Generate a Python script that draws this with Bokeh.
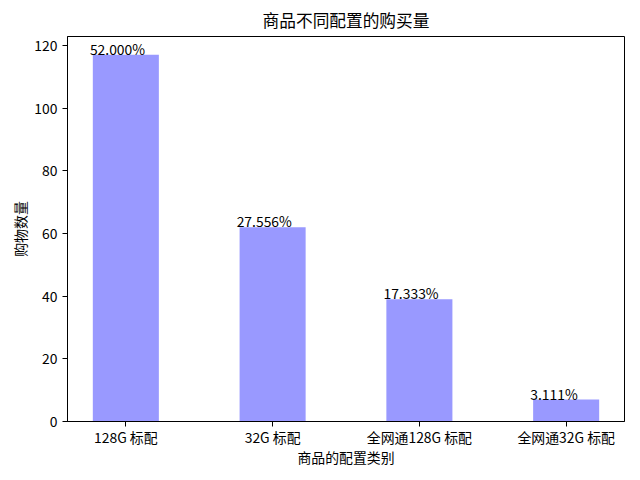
from bokeh.plotting import figure
from bokeh.models import Range1d, FixedTicker, ColumnDataSource
from bokeh.core.properties import value
from bokeh.embed import file_html
from bokeh.resources import INLINE

categories = ["128G 标配", "32G 标配", "全网通128G 标配", "全网通32G 标配"]
counts = [117, 62, 39, 7]
y_ticks = [0, 20, 40, 60, 80, 100, 120]

total = sum(counts)
positions = list(range(len(categories)))
labels = [f"{c / total * 100:.3f}%" for c in counts]

FONT = "Noto Sans CJK SC"
BAR_W = 0.45

source = ColumnDataSource(dict(
    x=positions,
    top=counts,
    lx=[x - 0.245 for x in positions],
    label=labels,
))

p = figure(
    width=640, height=480,
    x_range=Range1d(-0.3975, 3.3975),
    y_range=Range1d(0, 122.85),
    output_backend="svg", toolbar_location=None,
    min_border_left=67, min_border_right=16,
    min_border_top=35, min_border_bottom=59,
    background_fill_color="white", border_fill_color="white",
)

p.vbar(x="x", top="top", width=BAR_W, bottom=0, source=source,
       fill_color="#9999ff", line_color=None)

p.text(x="lx", y="top", text="label", source=source,
       text_font=value(FONT), text_font_size="13.9px",
       text_align="left", text_baseline="alphabetic", text_color="black",
       y_offset=-6)

p.title.text = "商品不同配置的购买量"
p.title.align = "center"
p.title.text_font = FONT
p.title.text_font_size = "16.7px"
p.title.text_font_style = "normal"
p.title.text_color = "black"

p.xgrid.grid_line_color = None
p.ygrid.grid_line_color = None
p.outline_line_color = "black"
p.outline_line_width = 1
p.outline_line_alpha = 1

p.xaxis.ticker = FixedTicker(ticks=positions, minor_ticks=[])
p.xaxis.major_label_overrides = {i: c for i, c in zip(positions, categories)}
p.yaxis.ticker = FixedTicker(ticks=y_ticks, minor_ticks=[])

p.xaxis.axis_label = "商品的配置类别"
p.yaxis.axis_label = "购物数量"

for ax in (p.xaxis, p.yaxis):
    ax.axis_line_color = "black"
    ax.major_tick_line_color = "black"
    ax.major_tick_in = 0
    ax.major_tick_out = 5
    ax.minor_tick_line_color = None
    ax.major_label_text_font = FONT
    ax.major_label_text_font_size = "13.9px"
    ax.major_label_text_color = "black"
    ax.axis_label_text_font = FONT
    ax.axis_label_text_font_size = "13.9px"
    ax.axis_label_text_font_style = "normal"
    ax.axis_label_text_color = "black"

p.xaxis.major_label_standoff = 0
p.yaxis.major_label_standoff = 5
p.xaxis.axis_label_standoff = -3
p.yaxis.axis_label_standoff = 1

open("out.html", "w").write(file_html(p, INLINE))
